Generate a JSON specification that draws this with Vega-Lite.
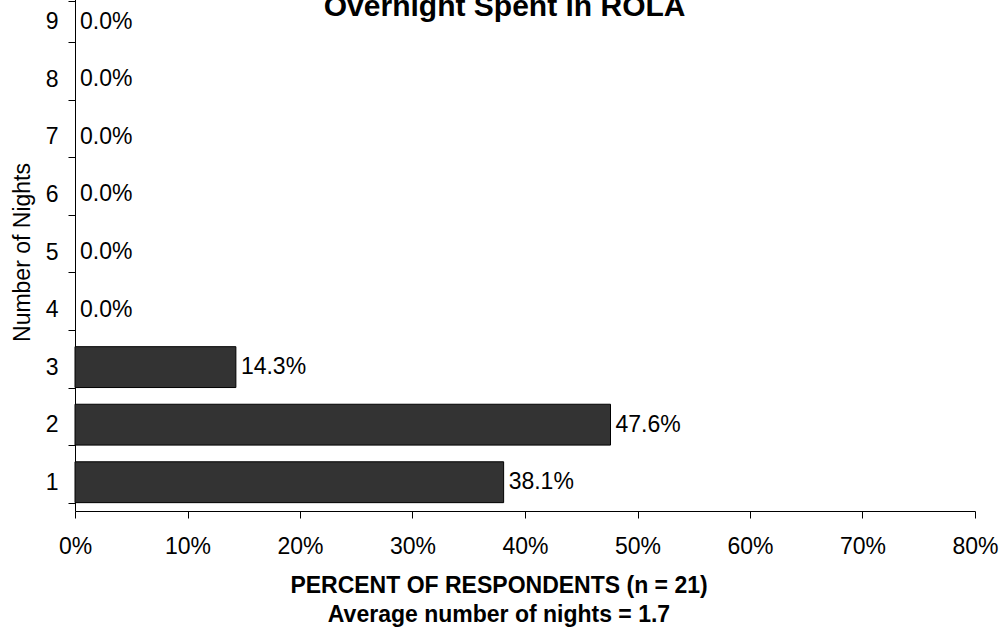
{
  "$schema": "https://vega.github.io/schema/vega-lite/v6.json",
  "width": 900,
  "height": 518,
  "autosize": {"type": "none"},
  "padding": {"left": 75, "top": -7, "right": 27, "bottom": 117},
  "background": "white",
  "config": {"view": {"stroke": null}, "font": "Liberation Sans"},
  "title": {
    "text": "Overnight Spent in ROLA",
    "fontSize": 30,
    "fontWeight": "bold",
    "font": "Liberation Sans",
    "color": "black",
    "anchor": "middle",
    "frame": "bounds",
    "offset": -40
  },
  "data": {
    "values": [
      {"nights": 1, "pct": 0.381},
      {"nights": 2, "pct": 0.476},
      {"nights": 3, "pct": 0.143},
      {"nights": 4, "pct": 0.0},
      {"nights": 5, "pct": 0.0},
      {"nights": 6, "pct": 0.0},
      {"nights": 7, "pct": 0.0},
      {"nights": 8, "pct": 0.0},
      {"nights": 9, "pct": 0.0}
    ]
  },
  "encoding": {
    "y": {
      "field": "nights",
      "type": "ordinal",
      "sort": "descending",
      "scale": {"paddingInner": 0.29, "paddingOuter": 0.145},
      "axis": {
        "title": "Number of Nights",
        "titleFont": "Liberation Sans",
        "titleFontSize": 23,
        "titleFontWeight": "normal",
        "titleColor": "black",
        "titlePadding": 11,
        "labelFont": "Liberation Sans",
        "labelFontSize": 23,
        "labelColor": "black",
        "labelAngle": 0,
        "labelPadding": 10,
        "tickBand": "extent",
        "tickSize": 7,
        "tickColor": "black",
        "domainColor": "black",
        "grid": false
      }
    },
    "x": {
      "field": "pct",
      "type": "quantitative",
      "scale": {"domain": [0, 0.8]},
      "axis": {
        "values": [0, 0.1, 0.2, 0.3, 0.4, 0.5, 0.6, 0.7, 0.8],
        "format": "%",
        "grid": false,
        "tickSize": 7,
        "tickColor": "black",
        "domainColor": "black",
        "labelFlush": false,
        "labelPadding": 17,
        "labelFont": "Liberation Sans",
        "labelFontSize": 23,
        "labelColor": "black",
        "title": ["PERCENT OF RESPONDENTS (n = 21)", "Average number of nights = 1.7"],
        "titleFont": "Liberation Sans",
        "titleFontSize": 23,
        "titleFontWeight": "bold",
        "titleColor": "black",
        "titleLineHeight": 29,
        "titleX": 423.5,
        "titleY": 81,
        "titleBaseline": "alphabetic",
        "titleAlign": "center"
      }
    }
  },
  "layer": [
    {
      "mark": {"type": "bar", "color": "#333333", "stroke": "black", "strokeWidth": 1},
      "encoding": {
        "strokeOpacity": {"condition": {"test": "datum.pct > 0", "value": 1}, "value": 0}
      }
    },
    {
      "mark": {
        "type": "text",
        "align": "left",
        "baseline": "middle",
        "dx": 5,
        "fontSize": 23,
        "font": "Liberation Sans",
        "color": "black"
      },
      "encoding": {
        "text": {"field": "pct", "type": "quantitative", "format": ".1%"}
      }
    }
  ]
}
